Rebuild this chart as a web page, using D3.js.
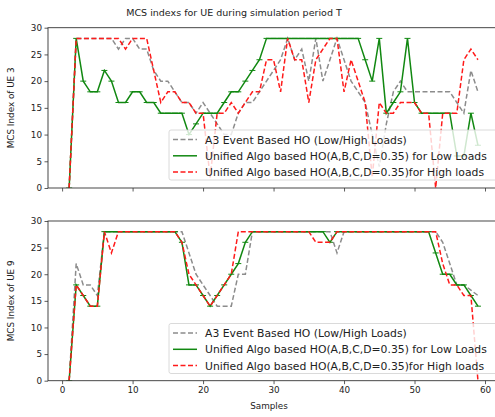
<!DOCTYPE html>
<html><head><meta charset="utf-8">
<script src="https://cdn.jsdelivr.net/npm/d3@7"></script>
<style>body{margin:0;background:#fff;} svg{display:block;font-family:"DejaVu Sans",sans-serif;}</style>
</head><body><svg id="c" width="495" height="417"></svg>
<script>
const samples = d3.range(1, 60);
const xTicks = [0, 10, 20, 30, 40, 50, 60];
const yTicks = [0, 5, 10, 15, 20, 25, 30];
const seriesNames = ["A3 Event Based HO (Low/High Loads)",
  "Unified Algo based HO(A,B,C,D=0.35) for Low Loads",
  "Unified Algo based HO(A,B,C,D=0.35)for High loads"];

const ue3A3 = [0,28,28,28,28,28,28,26,28,28, 26,26,22,20,20,18,16,16,14,16,
  14,12,10,10,14,16,16,18,20,22, 24,28,24,26,20,28,20,24,28,24,
  20,18,16,10,4,12,18,20,18,18, 18,18,18,18,18,16,14,22,18];
const ue3Low = [0,28,20,18,18,22,20,16,16,18, 18,16,16,14,14,14,14,10,12,14,
  14,14,16,18,18,20,22,24,28,28, 28,28,28,28,28,28,28,28,28,28,
  28,28,24,20,28,14,16,18,28,16, 14,14,14,14,14,6,6,14,8];
const ue3High = [0,28,28,28,28,28,28,28,26,28, 28,28,22,16,18,18,16,16,14,14,
  2,14,14,16,14,16,18,18,24,24, 18,28,24,24,16,24,26,28,28,18,
  24,20,16,2,16,14,14,16,16,16, 14,14,0,14,14,14,24,26,24];

const ue9A3 = [0,22,18,18,16,28,28,28,28,28, 28,28,28,28,28,28,28,24,20,18,
  16,14,14,14,20,20,28,28,28,28, 28,28,28,28,28,28,28,28,24,28,
  28,28,28,28,28,28,28,28,28,28, 28,28,28,26,22,18,18,17,16];
const ue9Low = [0,18,16,14,14,28,28,28,28,28, 28,28,28,28,28,28,26,18,18,16,
  14,16,18,20,22,26,28,28,28,28, 28,28,28,28,28,28,28,26,28,28,
  28,28,28,28,28,28,28,28,28,28, 28,28,24,20,20,18,18,16,14];
const ue9High = [0,18,16,14,14,28,24,28,28,28, 28,28,28,28,28,28,26,20,18,16,
  14,16,18,20,28,28,28,28,28,28, 28,28,28,28,28,26,26,26,28,28,
  28,28,28,28,28,28,28,28,28,28, 28,28,28,22,18,18,16,16,0];

const svg = d3.select("#c");
const left = 48, rightPix = 499.1;
const x = d3.scaleLinear().domain([-2, 62]).range([left, rightPix]);
const fs = 8.8;

function fitText(sel, targetW, base) {
  sel.attr("font-size", base);
  const w = sel.node().getComputedTextLength();
  sel.attr("font-size", base * targetW / w);
  return base * targetW / w;
}

const title = svg.append("text").attr("x", 234).attr("y", 16).attr("text-anchor", "middle")
  .attr("fill", "#222").text("MCS indexs for UE during simulation period T");
fitText(title, 216, 10);

// measure legend font size
const probe = svg.append("text").text(seriesNames[1]);
const legendFs = fitText(probe, 282, 10);
probe.remove();

function panel(top, bottom, a3, low, high, ylabel, showXLabels, legendTop) {
  const y = d3.scaleLinear().domain([0, 30]).range([bottom, top]);
  const g = svg.append("g");
  const clipId = "clip" + Math.round(top);
  g.append("clipPath").attr("id", clipId).append("rect")
    .attr("x", left).attr("y", top).attr("width", rightPix - left).attr("height", bottom - top);

  const xa = g.append("g").attr("transform", `translate(0,${bottom})`)
    .call(d3.axisBottom(x).tickValues(xTicks).tickSize(3.5).tickPadding(2.5)
      .tickFormat(showXLabels ? d3.format("d") : () => ""));
  const ya = g.append("g").attr("transform", `translate(${left},0)`)
    .call(d3.axisLeft(y).tickValues(yTicks).tickSize(3.5).tickPadding(2.5));
  [xa, ya].forEach(a => {
    a.select(".domain").remove();
    a.selectAll("line").attr("stroke", "#333").attr("stroke-width", 0.8);
    a.selectAll("text").attr("font-size", fs).attr("fill", "#222").attr("font-family", "DejaVu Sans");
  });

  const plot = g.append("g").attr("clip-path", `url(#${clipId})`);
  const line = d3.line().x((d, i) => x(samples[i])).y(d => y(d));
  plot.append("path").datum(a3).attr("d", line).attr("fill", "none")
    .attr("stroke", "#8c8c8c").attr("stroke-width", 1.5).attr("stroke-dasharray", "5,2.5");
  plot.append("path").datum(low).attr("d", line).attr("fill", "none")
    .attr("stroke", "#118811").attr("stroke-width", 1.5);
  plot.selectAll(".mk").data(low).enter().append("line")
    .attr("x1", (d, i) => x(samples[i]) - 3).attr("x2", (d, i) => x(samples[i]) + 3)
    .attr("y1", d => y(d)).attr("y2", d => y(d))
    .attr("stroke", "#118811").attr("stroke-width", 1);
  plot.append("path").datum(high).attr("d", line).attr("fill", "none")
    .attr("stroke", "#ff1a1a").attr("stroke-width", 1.5).attr("stroke-dasharray", "5,2.5");

  g.append("rect").attr("x", left).attr("y", top).attr("width", rightPix - left).attr("height", bottom - top)
    .attr("fill", "none").attr("stroke", "#333").attr("stroke-width", 0.9);

  g.append("text").attr("transform", `translate(14,${(top + bottom) / 2}) rotate(-90)`)
    .attr("text-anchor", "middle").attr("font-size", fs).attr("fill", "#222").text(ylabel);

  // legend
  const lg = g.append("g").attr("transform", `translate(169,${legendTop})`);
  lg.append("rect").attr("x", 0).attr("y", 0).attr("width", 340).attr("height", 50).attr("rx", 2)
    .attr("fill", "#fff").attr("fill-opacity", 0.8).attr("stroke", "#d0d0d0").attr("stroke-width", 0.8);
  const styles = [
    {c: "#8c8c8c", dash: "5,2.5"}, {c: "#118811", dash: null}, {c: "#ff1a1a", dash: "5,2.5"}];
  seriesNames.forEach((n, i) => {
    const yy = 9.5 + i * 16.3;
    lg.append("line").attr("x1", 4).attr("x2", 28).attr("y1", yy).attr("y2", yy)
      .attr("stroke", styles[i].c).attr("stroke-width", 1.5)
      .attr("stroke-dasharray", styles[i].dash);
    lg.append("text").attr("x", 36).attr("y", yy + 4).attr("font-size", legendFs).attr("fill", "#222").text(n);
  });
}

panel(27.7, 188, ue3A3, ue3Low, ue3High, "MCS Index of UE 3", false, 130);
panel(221, 380.7, ue9A3, ue9Low, ue9High, "MCS Index of UE 9", true, 323.5);

svg.append("text").attr("x", 269).attr("y", 409).attr("text-anchor", "middle")
  .attr("font-size", fs).attr("fill", "#222").text("Samples");
</script></body></html>
